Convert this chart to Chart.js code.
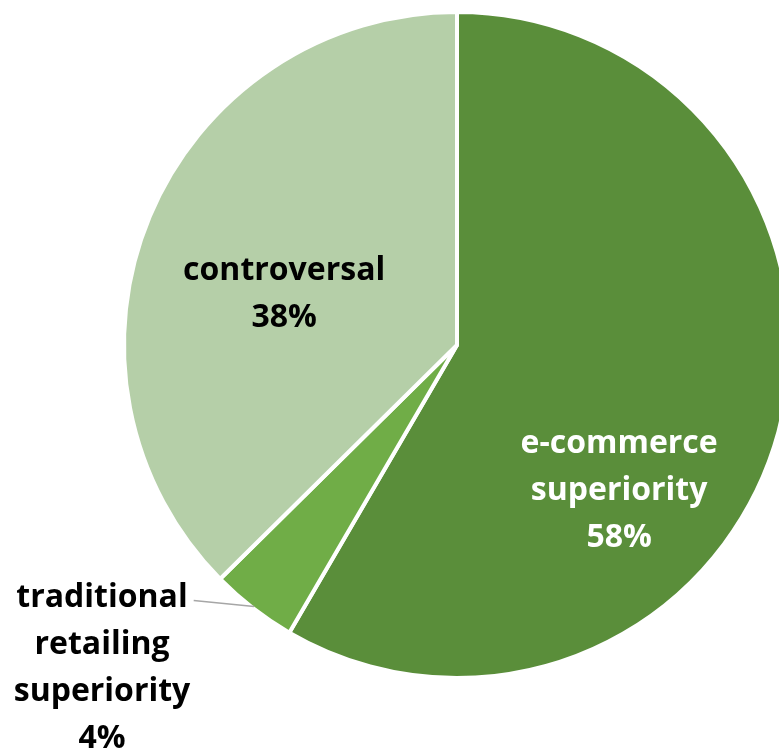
<!DOCTYPE html>
<html>
<head>
<meta charset="utf-8">
<script src="https://cdn.jsdelivr.net/npm/chart.js@4"></script>
<style>
    html, body { margin: 0; padding: 0; background: #fff; overflow: hidden; }
    #pie-chart { display: block; }
</style>
</head>
<body>
<canvas id="pie-chart" width="914" height="755"></canvas>
<script>
"use strict";

const categories = ["e-commerce superiority", "traditional retailing superiority", "controversal"];
const labelLines = [["e-commerce", "superiority"], ["traditional", "retailing", "superiority"], ["controversal"]];
const shares = [58.4, 4.2, 37.4];
const percentLabels = ["58%", "4%", "38%"];

const sliceColors = ["#5A8E3A", "#70AD47", "#B5CFA8"];
const labelColors = ["#FFFFFF", "#000000", "#000000"];
// label block centre, as a fraction of the radius from the pie centre
const labelOffsets = [[0.487, 0.439], [-1.066, 0.97], [-0.519, -0.152]];
const LINE_HEIGHT = 47;

const labelPlugin = {
    id: "sliceLabels",
    afterDatasetsDraw(chart) {
        const ctx = chart.ctx;
        const arcs = chart.getDatasetMeta(0).data;
        ctx.save();
        ctx.font = "bold 32px 'Open Sans'";
        ctx.textAlign = "center";
        ctx.textBaseline = "middle";
        arcs.forEach((arc, i) => {
            const r = arc.outerRadius;
            const cx = arc.x + labelOffsets[i][0] * r;
            const cy = arc.y + labelOffsets[i][1] * r;
            const lines = labelLines[i].concat([percentLabels[i]]);
            const top = cy - (lines.length - 1) * LINE_HEIGHT / 2;
            ctx.fillStyle = labelColors[i];
            lines.forEach((line, j) => ctx.fillText(line, cx, top + j * LINE_HEIGHT));

            if (labelOffsets[i][0] < -1) {
                // leader line from the outside label to its slice
                const mid = (arc.startAngle + arc.endAngle) / 2;
                const w = ctx.measureText(lines[0]).width;
                ctx.strokeStyle = "#A6A6A6";
                ctx.lineWidth = 1.5;
                ctx.beginPath();
                ctx.moveTo(cx + w / 2 + 6, top + 3);
                ctx.lineTo(arc.x + Math.cos(mid) * (r - 2), arc.y + Math.sin(mid) * (r - 2));
                ctx.stroke();
            }
        });
        ctx.restore();
    }
};

const ctx = document.querySelector("#pie-chart").getContext("2d");
const configuration = {
    type: "pie",
    data: {
        labels: categories,
        datasets: [{
            data: shares,
            backgroundColor: sliceColors,
            borderColor: "#FFFFFF",
            borderWidth: 4
        }]
    },
    options: {
        responsive: false,
        animation: false,
        layout: {
            padding: { top: 10, bottom: 75, left: 0, right: 0 }
        },
        plugins: {
            legend: { display: false },
            tooltip: { enabled: false }
        }
    },
    plugins: [labelPlugin]
};
new Chart(ctx, configuration); //NOSONAR
</script>
</body>
</html>
